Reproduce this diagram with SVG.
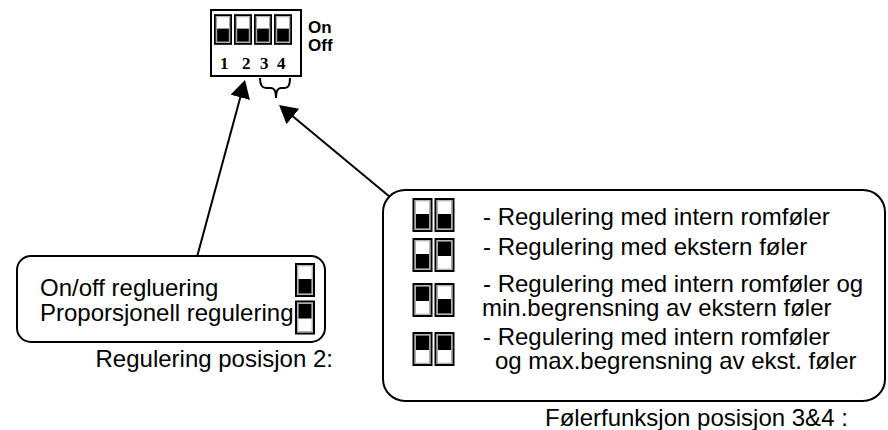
<svg xmlns="http://www.w3.org/2000/svg" xmlns:xlink="http://www.w3.org/1999/xlink" width="888" height="430" viewBox="0 0 888 430">
<style>
.t{font-family:"Liberation Sans",Arial,sans-serif;font-size:24px;fill:#000}
.b{font-family:"Liberation Sans",Arial,sans-serif;font-size:17px;font-weight:bold;fill:#000}
.n{font-family:"Liberation Serif","Times New Roman",serif;font-size:17px;font-weight:bold;fill:#000}
.box{fill:#fff;stroke:#000;stroke-width:2}
.line{fill:none;stroke:#000;stroke-width:2}
</style>
<defs>
<marker id="ah" markerUnits="userSpaceOnUse" markerWidth="18" markerHeight="20" refX="10" refY="10" orient="auto">
<path d="M0,0 L18,10 L0,20 z" fill="#000"/>
</marker>
<symbol id="swLow" viewBox="0 0 20 34">
<rect x="1" y="1" width="18" height="32" fill="#fff" stroke="#000" stroke-width="2"/>
<rect x="2.8" y="2.8" width="14.4" height="28.4" fill="none" stroke="#999" stroke-width="1"/>
<rect x="3.5" y="16" width="13" height="14.5" fill="#000"/>
</symbol>
<symbol id="swHigh" viewBox="0 0 20 34">
<rect x="1" y="1" width="18" height="32" fill="#fff" stroke="#000" stroke-width="2"/>
<rect x="2.8" y="2.8" width="14.4" height="28.4" fill="none" stroke="#999" stroke-width="1"/>
<rect x="3.5" y="3.5" width="13" height="14.5" fill="#000"/>
</symbol>
</defs>

<g id="dip">
<rect x="211" y="10" width="90" height="66" fill="#fff" stroke="#000" stroke-width="2"/>
<use xlink:href="#swLow" x="214" y="13" width="18" height="33"/>
<use xlink:href="#swLow" x="234" y="13" width="18" height="33"/>
<use xlink:href="#swLow" x="254" y="13" width="18" height="33"/>
<use xlink:href="#swLow" x="274" y="13" width="18" height="33"/>
<text class="n" x="220" y="69">1</text>
<text class="n" x="242" y="69">2</text>
<text class="n" x="260" y="69">3</text>
<text class="n" x="277" y="69">4</text>
<text class="b" x="308" y="33">On</text>
<text class="b" x="308" y="51">Off</text>
<path class="line" d="M260,78 Q260,88 266,88 L271,88 Q276,88 276,98 Q276,88 281,88 L285,88 Q290,88 290,78"/>
</g>

<g id="connectors">
<line class="line" x1="197" y1="257" x2="242.9" y2="87.7" marker-end="url(#ah)"/>
<line class="line" x1="390" y1="197" x2="285.2" y2="110.1" marker-end="url(#ah)"/>
</g>

<g id="pos2">
<rect class="box" x="17" y="256" width="308" height="86" rx="14"/>
<text class="t" x="40" y="296">On/off regluering</text>
<text class="t" x="40" y="321">Proporsjonell regulering</text>
<use xlink:href="#swLow" x="295" y="263" width="20" height="34"/>
<use xlink:href="#swHigh" x="295" y="300" width="20" height="35"/>
<text class="t" x="333" y="367" text-anchor="end">Regulering posisjon 2:</text>
</g>

<g id="pos34">
<rect class="box" x="383" y="190" width="502" height="211" rx="22"/>
<use xlink:href="#swLow" x="412" y="198" width="21" height="34"/>
<use xlink:href="#swLow" x="434" y="198" width="21" height="34"/>
<use xlink:href="#swLow" x="412" y="238" width="21" height="34"/>
<use xlink:href="#swHigh" x="434" y="238" width="21" height="34"/>
<use xlink:href="#swHigh" x="412" y="283" width="21" height="34"/>
<use xlink:href="#swLow" x="434" y="283" width="21" height="34"/>
<use xlink:href="#swHigh" x="412" y="332" width="21" height="34"/>
<use xlink:href="#swHigh" x="434" y="332" width="21" height="34"/>
<text class="t" x="483" y="225">- Regulering med intern romføler</text>
<text class="t" x="483" y="255">- Regulering med ekstern føler</text>
<text class="t" x="483" y="292">- Regulering med intern romføler og</text>
<text class="t" x="482" y="316">min.begrensning av ekstern føler</text>
<text class="t" x="483" y="345">- Regulering med intern romføler</text>
<text class="t" x="495" y="369">og max.begrensning av ekst. føler</text>
<text class="t" x="545" y="426">Følerfunksjon posisjon 3&amp;4 :</text>
</g>
</svg>
